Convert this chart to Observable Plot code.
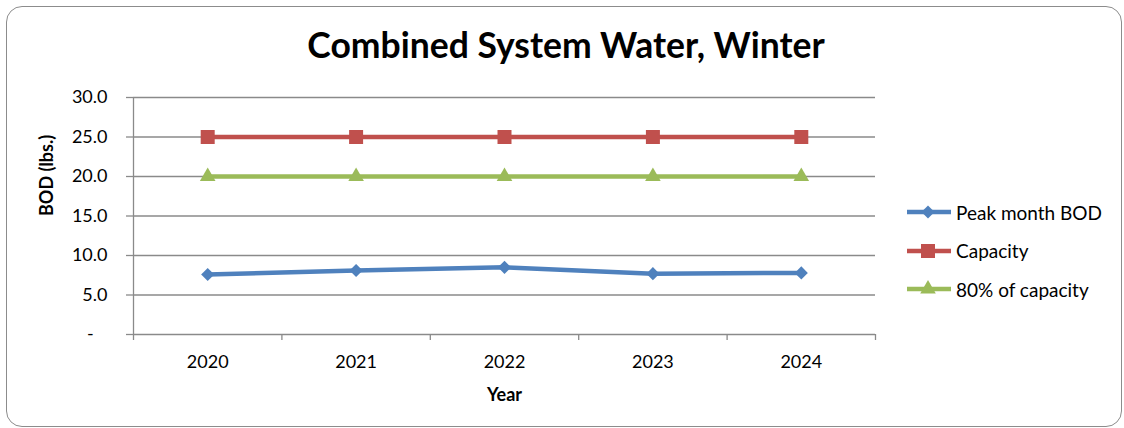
<!DOCTYPE html>
<html>
<head>
<meta charset="utf-8">
<script src="https://cdn.jsdelivr.net/npm/d3@7"></script>
<script src="https://cdn.jsdelivr.net/npm/@observablehq/plot@0.6"></script>
<style>
  html, body { margin: 0; padding: 0; background: #fff; }
  #chart { position: relative; width: 1124px; height: 428px; font-family: Lato, "Open Sans", sans-serif; overflow: hidden; }
  #frame { position: absolute; left: 6px; top: 6px; width: 1116px; height: 421px; border: 1.5px solid #8c8c8c; border-radius: 16px; box-sizing: border-box; }
  #title { position: absolute; left: 0; width: 1132px; top: 25px; text-align: center; font-weight: 700; font-size: 35.5px; color: #000; line-height: 40px; }
  #plot { position: absolute; left: 0; top: 0; }
  #legend { position: absolute; left: 906px; top: 193px; font-size: 19px; color: #000; }
  .item { display: flex; align-items: center; height: 38.5px; }
  .item svg { margin-right: 3px; }
</style>
</head>
<body>
<div id="chart">
  <div id="frame"></div>
  <div id="plot"></div>
  <div id="title">Combined System Water, Winter</div>
  <div id="legend"></div>
</div>
<script>
// Peak monthly BOD load against plant capacity, winter, 2020–2024
const years = [2020, 2021, 2022, 2023, 2024];
const peakBOD = [7.6, 8.1, 8.5, 7.7, 7.8];
const capacity = [25, 25, 25, 25, 25];
const capacity80 = [20, 20, 20, 20, 20];
const yTicks = [0, 5, 10, 15, 20, 25, 30];

const seriesNames = ["Peak month BOD", "Capacity", "80% of capacity"];
const seriesValues = [peakBOD, capacity, capacity80];
const seriesColors = ["#4F81BD", "#C0504D", "#9BBB59"];
const seriesSymbols = ["diamond2", "square", "triangle"];
const seriesRadius = [5.9, 7.9, 5.8];

const rows = seriesNames.flatMap((name, i) =>
  years.map((year, j) => ({series: name, year, value: seriesValues[i][j]}))
);

// category boundaries half a year either side of each label
const boundaries = years.map(y => y - 0.5).concat(years[years.length - 1] + 0.5);
const grey = "#8a8a8a";

const plot = Plot.plot({
  width: 1124,
  height: 428,
  marginLeft: 133,
  marginRight: 249,
  marginTop: 97,
  marginBottom: 94,
  style: {fontFamily: "Lato, 'Open Sans', sans-serif", fontSize: "18px", color: "#000", background: "transparent"},
  x: {type: "linear", domain: [boundaries[0], boundaries[boundaries.length - 1]]},
  y: {domain: [0, 30]},
  marks: [
    Plot.ruleY(yTicks, {stroke: grey, strokeWidth: 1.3}),
    Plot.ruleX([boundaries[0]], {stroke: grey, strokeWidth: 1.3}),
    Plot.axisY(yTicks, {
      tickSize: 7, tickPadding: 19, stroke: grey, strokeWidth: 1.3, strokeOpacity: 1,
      tickFormat: d => d === 0 ? "-\u00a0\u00a0\u00a0" : d.toFixed(1),
      label: null, fontSize: 18, fill: "#000"
    }),
    Plot.axisX(boundaries, {tickSize: 6, stroke: grey, strokeWidth: 1.3, strokeOpacity: 1, tickFormat: () => "", label: null}),
    Plot.axisX(years, {tickSize: 0, tickPadding: 21, tickFormat: d => String(d), label: null, fontSize: 18, fill: "#000"}),
    Plot.text(["Year"], {frameAnchor: "bottom", dy: 66, fontWeight: 700, fontSize: 18, fill: "#000"}),
    Plot.text(["BOD (lbs.)"], {frameAnchor: "left", dx: -86, rotate: -90, fontWeight: 700, fontSize: 18, fill: "#000"}),
    ...seriesNames.map((name, i) =>
      Plot.line(rows.filter(d => d.series === name), {x: "year", y: "value", stroke: seriesColors[i], strokeWidth: 4.5})
    ),
    ...seriesNames.map((name, i) =>
      Plot.dot(rows.filter(d => d.series === name), {x: "year", y: "value", symbol: seriesSymbols[i], r: seriesRadius[i], fill: seriesColors[i], stroke: "none"})
    )
  ]
});
document.getElementById("plot").appendChild(plot);

// legend swatches: line with the series marker in the middle
const legend = d3.select("#legend");
seriesNames.forEach((name, i) => {
  const item = legend.append("div").attr("class", "item");
  const svg = item.append("svg").attr("width", 47).attr("height", 20);
  svg.append("line").attr("x1", 1).attr("x2", 45).attr("y1", 10).attr("y2", 10)
    .attr("stroke", seriesColors[i]).attr("stroke-width", 4.5);
  const type = [d3.symbolDiamond2, d3.symbolSquare, d3.symbolTriangle][i];
  const r = seriesRadius[i];
  svg.append("path").attr("transform", "translate(22,10)")
    .attr("d", d3.symbol(type, Math.PI * r * r)())
    .attr("fill", seriesColors[i]);
  item.append("span").text(name);
});
</script>
</body>
</html>
